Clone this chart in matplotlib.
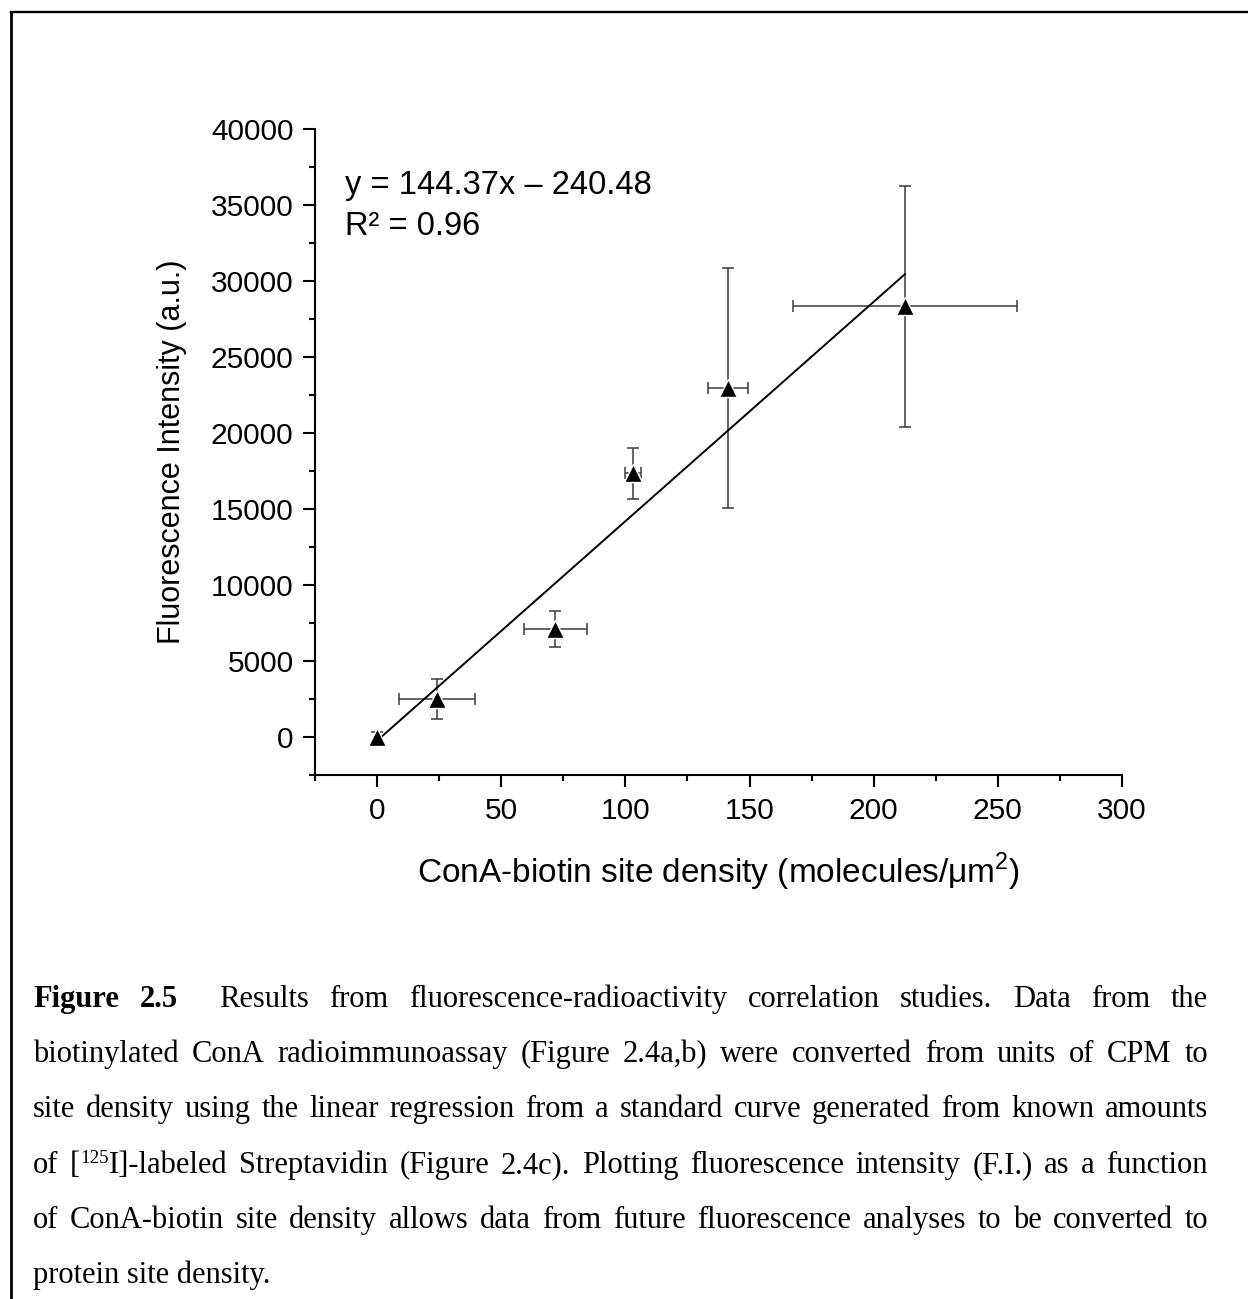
import numpy as np
import matplotlib
matplotlib.use("Agg")
import matplotlib.pyplot as plt
from matplotlib.lines import Line2D
from matplotlib.ticker import MultipleLocator

# ConA-biotin site density vs fluorescence intensity
site_density = [0.0, 24.1, 71.8, 102.9, 141.4, 212.6]
site_err = [0.0, 15.3, 12.8, 3.2, 8.0, 45.0]
fluor = [0.0, 2500, 7100, 17350, 22950, 28340]
fluor_err = [300, 1300, 1200, 1680, 7880, 7930]

# linear regression reported on the plot
slope = 144.37
intercept = -240.48
r_squared = 0.96

W, H = 1248, 1299
DPI = 100

plt.rcParams["font.family"] = ["Liberation Sans", "DejaVu Sans"]
fig = plt.figure(figsize=(W / DPI, H / DPI), dpi=DPI)
ax = fig.add_axes([315 / W, 1 - 775 / H, (1122 - 315) / W, (775 - 129) / H])

ax.errorbar(site_density, fluor, xerr=site_err, yerr=fluor_err, fmt="none",
            ecolor="#3a3a3a", elinewidth=1.1, capsize=4.3, capthick=1.1, zorder=2)
xfit = np.array([site_density[0], site_density[-1]])
ax.plot(xfit, slope * xfit + intercept, color="black", linewidth=1.4, zorder=2.5)
# thin white rim keeps the error bars from running into the symbols
ax.plot(site_density, fluor, linestyle="none", marker="^", markersize=13.5,
        markerfacecolor="black", markeredgecolor="white", markeredgewidth=1.0,
        zorder=3)

ax.set_xlim(-25, 300)
ax.set_ylim(-2500, 40000)
ax.xaxis.set_major_locator(MultipleLocator(50))
ax.xaxis.set_minor_locator(MultipleLocator(25))
ax.yaxis.set_major_locator(MultipleLocator(5000))
ax.yaxis.set_minor_locator(MultipleLocator(2500))

for side in ["top", "right"]:
    ax.spines[side].set_visible(False)
for side in ["left", "bottom"]:
    ax.spines[side].set_linewidth(1.5)
ax.tick_params(which="major", direction="out", length=8.5, width=1.5,
               labelsize=21.5, pad=7)
ax.tick_params(which="minor", direction="out", length=4, width=1.5)

ax.set_xlabel("ConA-biotin site density (molecules/\u03bcm$^\\mathregular{2}$)", fontsize=24)
ax.set_ylabel("Fluorescence Intensity (a.u.)", fontsize=22)
ax.xaxis.set_label_coords(0.5, -0.118)
ax.yaxis.set_label_coords(-0.159, 0.5)

fig.text(345 / W, 1 - 194 / H, f"y = {slope:.2f}x \u2013 {abs(intercept):.2f}",
         fontsize=23.5, va="baseline", ha="left")
fig.text(345 / W, 1 - 235 / H, f"R\u00b2 = {r_squared:.2f}",
         fontsize=23.5, va="baseline", ha="left")

# page frame
fig.add_artist(Line2D([11 / W, 1], [1 - 12 / H, 1 - 12 / H], color="black",
                      linewidth=1.7, transform=fig.transFigure))
fig.add_artist(Line2D([11 / W, 11 / W], [0, 1 - 12 / H], color="black",
                      linewidth=2.0, transform=fig.transFigure))

# caption, justified word by word
cap_size = 22
lines = [
    [[("Figure", "b")], [("2.5", "b")], [("", "tab")],
     *[[(w, "n")] for w in "Results from fluorescence-radioactivity correlation studies. Data from the".split()]],
    [[(w, "n")] for w in "biotinylated ConA radioimmunoassay (Figure 2.4a,b) were converted from units of CPM to".split()],
    [[(w, "n")] for w in "site density using the linear regression from a standard curve generated from known amounts".split()],
    [[("of", "n")], [("[", "n"), ("125", "sup"), ("I]-labeled", "n")],
     *[[(w, "n")] for w in "Streptavidin (Figure 2.4c). Plotting fluorescence intensity (F.I.) as a function".split()]],
    [[(w, "n")] for w in "of ConA-biotin site density allows data from future fluorescence analyses to be converted to".split()],
]
last_line = "protein site density."
left, right = 33, 1208
baselines = [1007, 1062, 1117, 1173, 1228, 1283]

fig.canvas.draw()
renderer = fig.canvas.get_renderer()


def make_run(text, kind):
    kw = dict(fontsize=cap_size, family="Liberation Serif", va="baseline", ha="left")
    if kind == "b":
        kw["fontweight"] = "bold"
    if kind == "sup":
        kw["fontsize"] = cap_size * 0.62
    return fig.text(0, 0, text, **kw)


for line, base in zip(lines, baselines):
    words = []
    total = 0.0
    for word in line:
        runs = []
        wwidth = 0.0
        for text, kind in word:
            if kind == "tab":
                continue
            t = make_run(text, kind)
            w = t.get_window_extent(renderer).width
            runs.append((t, kind, w))
            wwidth += w
        words.append(runs)
        total += wwidth
    gap = (right - left - total) / (len(words) - 1)
    x = left
    for runs in words:
        for t, kind, w in runs:
            dy = 10 if kind == "sup" else 0
            t.set_position((x / W, 1 - (base - dy) / H))
            x += w
        x += gap

fig.text(left / W, 1 - baselines[-1] / H, last_line, fontsize=cap_size,
         family="Liberation Serif", va="baseline", ha="left")

fig.savefig("out.png", dpi=DPI)
